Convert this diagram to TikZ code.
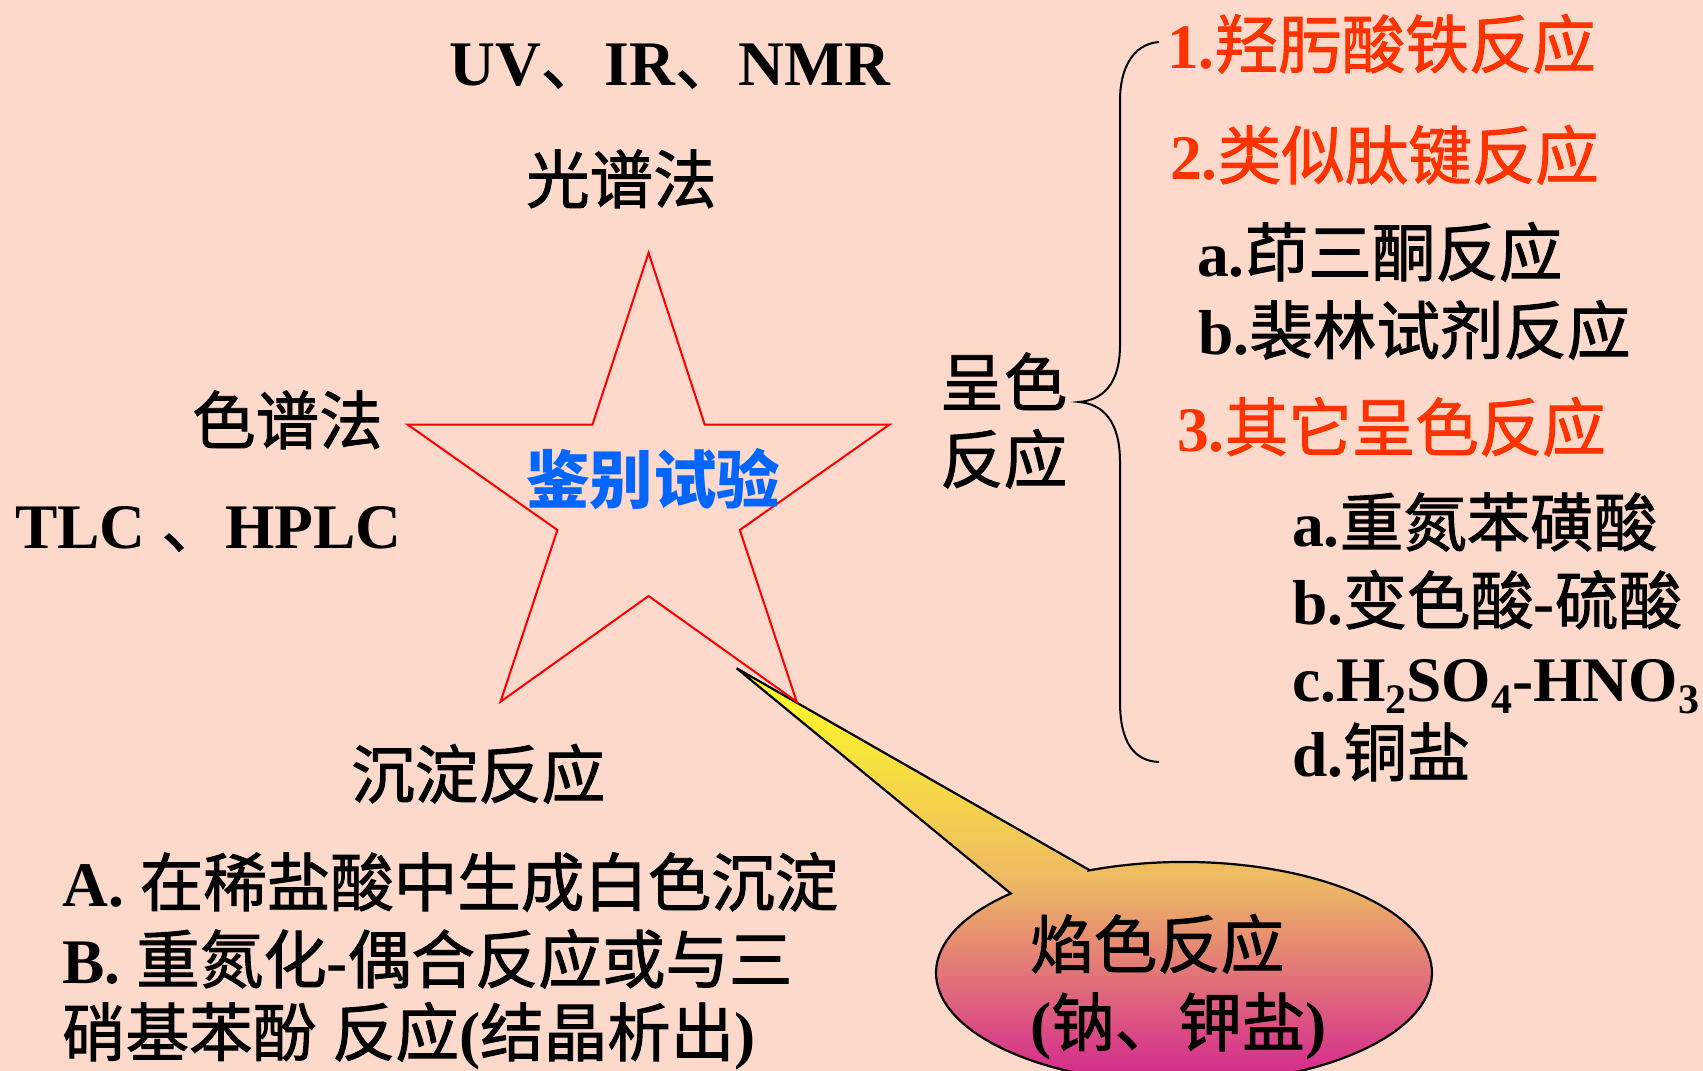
\documentclass[tikz,border=0pt]{standalone}
\usepackage{fontspec}
\setmainfont{Liberation Serif}
\newfontfamily\cjk{Noto Sans CJK SC}[FakeBold=1.5]
\newfontfamily\cjkbold{Noto Sans CJK SC}
\newcommand\zh[1]{{\cjk\mdseries #1}}
\newcommand\zhb[1]{{\cjkbold\bfseries #1}}
\newcommand\chemsub[1]{\raisebox{-12pt}{\fontsize{42}{42}\selectfont #1}}
\definecolor{bg}{HTML}{FDD9CB}
\definecolor{redtxt}{HTML}{FF3300}
\definecolor{bluetxt}{HTML}{0066FF}
\definecolor{calTop}{HTML}{FFFF22}
\definecolor{calMid}{HTML}{EDB865}
\definecolor{calBot}{HTML}{D21C92}
\begin{document}
\begin{tikzpicture}[x=1pt,y=-1pt,
  txt/.style={inner sep=0pt, anchor=base west, font=\fontsize{63.5}{76}\selectfont\bfseries},
  redt/.style={txt, text=redtxt},
  starline/.style={draw=red, line width=2pt, line join=miter},
  braceline/.style={draw=black, line width=2pt},
  callout/.style={draw=black, line width=2.2pt, top color=calTop, bottom color=calBot, middle color=calMid}]
\useasboundingbox (0,0) rectangle (1703,1071);
\clip (0,0) rectangle (1703,1071);
\fill[bg] (0,0) rectangle (1703,1071);

% callout
\coordinate (tip) at (736.7,668.3);
\coordinate (cb1) at (1089.3,870);
\coordinate (cb2) at (1010.8,893.5);
\shade[callout] (cb1) -- (tip) -- (cb2) arc[start angle=225.7, end angle=-112.5, x radius=248, y radius=111] -- cycle;

% star
\coordinate (s1) at (648.6,252.7);
\coordinate (s2) at (704.7,424.5);
\coordinate (s3) at (889.6,424.5);
\coordinate (s4) at (739.8,530);
\coordinate (s5) at (796.7,701.7);
\coordinate (s6) at (648.6,596);
\coordinate (s7) at (500.5,701.7);
\coordinate (s8) at (557.4,530);
\coordinate (s9) at (407.5,424.5);
\coordinate (s10) at (592.5,424.5);
\draw[starline] (s1) -- (s2) -- (s3) -- (s4) -- (s5) -- (s6) -- (s7) -- (s8) -- (s9) -- (s10) -- cycle;

% brace
\coordinate (bt) at (1159,42);
\coordinate (bm) at (1079,402);
\coordinate (bb) at (1159,762);
\draw[braceline] (bt) .. controls (1132,44) and (1120,70) .. (1120,100) -- (1120,345)
  .. controls (1120,385) and (1102,400) .. (bm)
  .. controls (1102,404) and (1120,420) .. (1120,462) -- (1120,702)
  .. controls (1120,742) and (1134,761) .. (bb);

% texts
\node[txt] (uv) at (449,85) {UV\zh{、}IR\zh{、}NMR};
\node[txt] (gp) at (526,203) {\zh{光谱法}};
\node[txt] (sp) at (192,444) {\zh{色谱法}};
\node[txt] (tlc) at (15,548) {TLC \zh{、}HPLC};
\node[txt, text=bluetxt] (jb) at (526,503) {\zhb{鉴别试验}};
\node[txt] (cd) at (351,798) {\zh{沉淀反应}};
\node[txt] (la) at (62,906) {A. \zh{在稀盐酸中生成白色沉淀}};
\node[txt] (lb) at (62,983) {B. \zh{重氮化}-\zh{偶合反应或与三}};
\node[txt] (lc) at (62,1056) {\zh{硝基苯酚} \zh{反应}(\zh{结晶析出})};

\node[txt] (cs1) at (940,406) {\zh{呈色}};
\node[txt] (cs2) at (940,483) {\zh{反应}};

\node[redt] (r1) at (1167,68) {1.\zh{羟肟酸铁反应}};
\node[redt] (r2) at (1170,179) {2.\zh{类似肽键反应}};
\node[txt] (r2a) at (1197,276) {a.\zh{茚三酮反应}};
\node[txt] (r2b) at (1198,354) {b.\zh{裴林试剂反应}};
\node[redt] (r3) at (1177,451) {3.\zh{其它呈色反应}};
\node[txt] (r3a) at (1292,546) {a.\zh{重氮苯磺酸}};
\node[txt] (r3b) at (1292,624) {b.\zh{变色酸}-\zh{硫酸}};
\node[txt] (r3c) at (1292,701) {c.H\chemsub{2}SO\chemsub{4}-HNO\chemsub{3}};
\node[txt] (r3d) at (1292,776) {d.\zh{铜盐}};

\node[txt] (fl1) at (1030,968) {\zh{焰色反应}};
\node[txt] (fl2) at (1030,1046) {(\zh{钠、钾盐})};
\end{tikzpicture}
\end{document}
